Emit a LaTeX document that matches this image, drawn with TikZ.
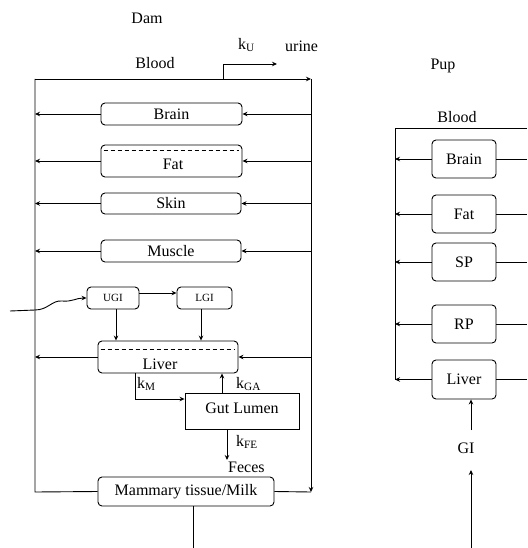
\documentclass[tikz,border=0pt]{standalone}
\usepackage{fontspec}
\setmainfont{Liberation Serif}
\usetikzlibrary{arrows.meta}
\begin{document}
\begin{tikzpicture}[x=1pt,y=-1pt,
  line/.style={line width=0.9pt},
  flow/.style={line width=0.9pt,-{Stealth[length=5pt,width=4.5pt]}},
  lbl/.style={font=\fontsize{16}{18}\selectfont,inner sep=0pt},
  organ/.style={draw,line width=0.9pt,rounded corners=4pt,inner sep=0pt,font=\fontsize{16}{18}\selectfont},
  sq/.style={draw,line width=0.9pt,inner sep=0pt}]
\useasboundingbox (0,0) rectangle (527,548);

% ---------------- Dam ----------------
\node[lbl] (damt) at (147,18) {Dam};
\node[lbl] (bloodd) at (155,63) {Blood};
\node[lbl,anchor=west] (ku) at (238,45) {k\textsubscript{U}};
\node[lbl,anchor=west] (urine) at (285,46) {urine};

\coordinate (lvtop) at (35,79);
\coordinate (lvbot) at (35,492);
\coordinate (rvtop) at (311,79);
\coordinate (rvbot) at (311,492);
\coordinate (lv) at (35,0);
\coordinate (rv) at (311,0);
\coordinate (ubase) at (223,79);
\coordinate (uup) at (223,64);
\coordinate (uend) at (277,64);

\node[organ,minimum width=141pt,minimum height=22pt] (brain) at (171.5,114) {Brain};
\node[organ,minimum width=141pt,minimum height=32pt] (fat) at (171.5,161) {};
\node[lbl] (fatt) at (173,164) {Fat};
\node[organ,minimum width=140pt,minimum height=21pt] (skin) at (171,203.5) {Skin};
\node[organ,minimum width=140pt,minimum height=22pt] (muscle) at (171,251) {Muscle};
\node[organ,minimum width=52pt,minimum height=22pt,font=\fontsize{11}{13}\selectfont] (ugi) at (113,298) {UGI};
\node[organ,minimum width=55pt,minimum height=22pt,font=\fontsize{11}{13}\selectfont] (lgi) at (204.5,298) {LGI};
\node[organ,minimum width=140pt,minimum height=32pt] (liver) at (168,357) {};
\node[lbl] (livert) at (160,364) {Liver};
\node[sq,minimum width=114pt,minimum height=36pt] (gut) at (242,411) {};
\node[lbl] (gutt) at (242,408) {Gut Lumen};
\node[organ,minimum width=176pt,minimum height=29pt] (mam) at (186,491.5) {Mammary tissue/Milk};

% dashed lines inside Fat and Liver
\draw[line,dash pattern=on 4pt off 3pt] ([xshift=3pt,yshift=-6pt]fat.north west) -- ([xshift=-3pt,yshift=-6pt]fat.north east);
\draw[line,dash pattern=on 4pt off 3pt] ([xshift=3pt,yshift=-9pt]liver.north west) -- ([xshift=-3pt,yshift=-9pt]liver.north east);

% blood loop
\draw[line] (mam.west) -- (lvbot) -- (lvtop);
\draw[flow] (lvtop) -- (rvtop);
\draw[flow] (rvtop) -- (rvbot);
\draw[line] (rvbot) -- (mam.east);
\draw[flow] (ubase) -- (uup) -- (uend);

% organ outflows (to left) and inflows (from right)
\foreach \o in {brain,fat,skin,muscle,liver}{
  \draw[flow] (\o.west) -- (\o.west -| lv);
  \draw[flow] (\o.east -| rv) -- (\o.east);
}

% GI
\coordinate (inlet) at (10,311);
\coordinate (injoin) at (35,310);
\draw[line] (inlet) -- (injoin);
\draw[flow] (injoin) .. controls (48,310) and (52,300) .. (62,301)
  .. controls (72,302) and (76,298) .. (ugi.west);
\draw[flow] ([yshift=5pt]ugi.east) -- ([yshift=5pt]ugi.east -| lgi.west);
\coordinate (ugix) at (116,0);
\coordinate (lgix) at (201,0);
\draw[flow] (ugi.south -| ugix) -- (liver.north -| ugix);
\draw[flow] (lgi.south -| lgix) -- (liver.north -| lgix);

% liver - gut lumen
\coordinate (kmx) at (135,0);
\coordinate (kmy) at (0,399);
\draw[flow] (liver.south -| kmx) -- (kmx |- kmy) -- (gut.west |- kmy);
\node[lbl,anchor=west] (km) at (137,384) {k\textsubscript{M}};
\coordinate (gax) at (222,0);
\draw[flow] (gut.north -| gax) -- (liver.south -| gax);
\node[lbl,anchor=west] (kga) at (236,384) {k\textsubscript{GA}};
\coordinate (fex) at (227,0);
\coordinate (fetop) at (227,460);
\draw[flow] (gut.south -| fex) -- (fetop);
\node[lbl,anchor=west] (kfe) at (236,442) {k\textsubscript{FE}};
\node[lbl,anchor=west] (feces) at (228,467) {Feces};

% milk out
\coordinate (milkx) at (193,0);
\coordinate (milkend) at (193,548);
\draw[line] (mam.south -| milkx) -- (milkend);

% ---------------- Pup ----------------
\node[lbl] (pupt) at (443,66) {Pup};
\node[lbl] (bloodp) at (457,117) {Blood};
\coordinate (plvtop) at (395,128);
\coordinate (prtop) at (527,128);
\coordinate (plv) at (395,0);
\coordinate (pr) at (527,0);

\node[organ,minimum width=64pt,minimum height=38pt] (pbrain) at (464,159) {Brain};
\node[organ,minimum width=64pt,minimum height=38pt] (pfat) at (464,214) {Fat};
\node[organ,minimum width=64pt,minimum height=38pt] (psp) at (464,262) {SP};
\node[organ,minimum width=64pt,minimum height=38pt] (prp) at (464,324) {RP};
\node[organ,minimum width=64pt,minimum height=39pt] (pliver) at (464,379.5) {Liver};

\draw[line] (prtop) -- (plvtop) -- (pliver.west -| plv);
\foreach \o in {pbrain,pfat,psp,prp,pliver}{
  \draw[flow] (\o.west) -- (\o.west -| plv);
  \draw[line] (\o.east) -- (\o.east -| pr);
}

\node[lbl] (gi) at (466,448) {GI};
\coordinate (gix) at (471,0);
\coordinate (gitop) at (471,430);
\coordinate (gilow) at (471,470);
\coordinate (gibot) at (471,548);
\draw[flow] (gitop) -- (pliver.south -| gix);
\draw[flow] (gibot) -- (gilow);
\end{tikzpicture}
\end{document}
